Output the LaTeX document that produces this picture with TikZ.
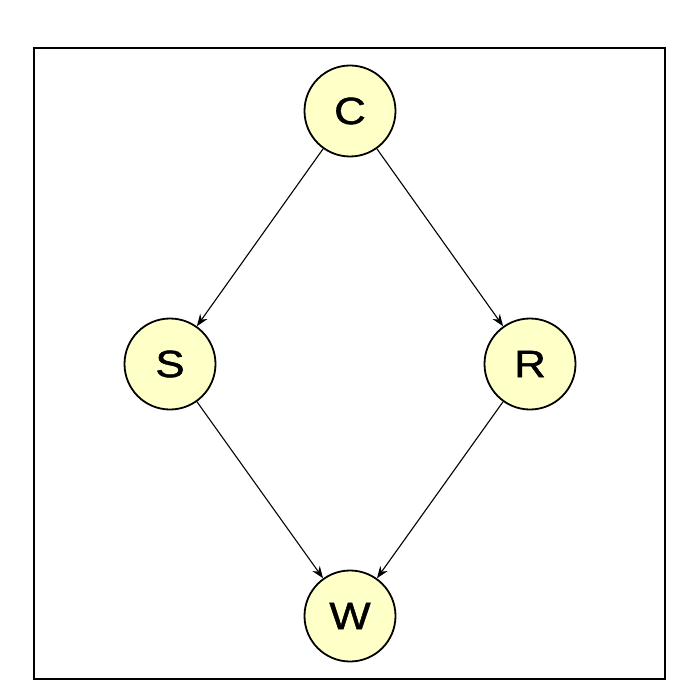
\documentclass[tikz,border=0pt]{standalone}
\usepackage{fontspec}
\setmainfont{Liberation Sans}
\newfontfamily\labelfont{Liberation Sans}[FakeBold=1.2]
\usetikzlibrary{arrows.meta}
\definecolor{nodefill}{RGB}{255,255,200}
% wide letters inside the variable circles
\newcommand\varlabel[1]{\scalebox{1.15}[1]{#1}}
\begin{document}
\begin{tikzpicture}[x=1pt,y=-1pt,
  var/.style={circle,draw=black,line width=1.8pt,fill=nodefill,minimum size=91pt,inner sep=0pt,font=\labelfont\fontsize{38}{38}\selectfont},
  edge/.style={line width=1.1pt,-{Stealth[length=12pt,width=9pt]}}]
  \useasboundingbox (0,0) rectangle (700,700);
  \draw[line width=1.5pt] (34,48) rectangle (665,679);
  \node[var] (C) at (350,111) {\varlabel{C}};
  \node[var] (S) at (170,364) {\varlabel{S}};
  \node[var] (R) at (530,364) {\varlabel{R}};
  \node[var] (W) at (350,616) {\varlabel{W}};
  \draw[edge] (C) -- (S);
  \draw[edge] (C) -- (R);
  \draw[edge] (S) -- (W);
  \draw[edge] (R) -- (W);
\end{tikzpicture}
\end{document}
